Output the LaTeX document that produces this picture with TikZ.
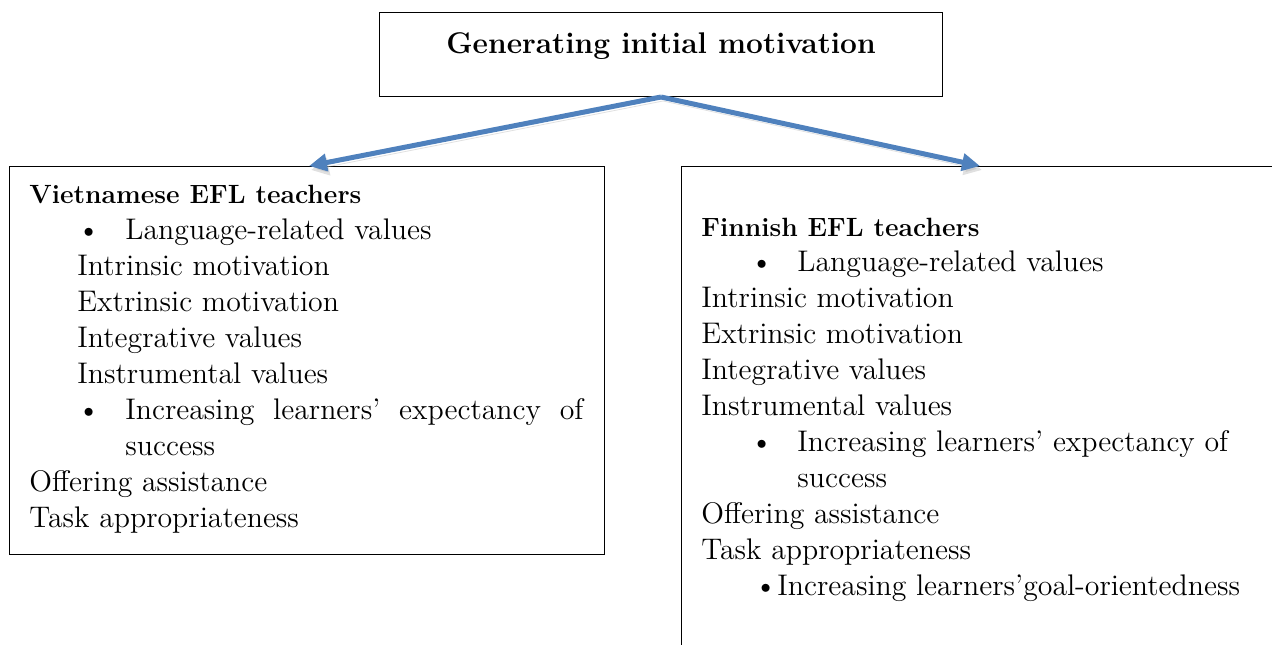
\documentclass[tikz,border=0pt]{standalone}
\usetikzlibrary{positioning,arrows.meta}
\definecolor{linkblue}{RGB}{79,129,189}
\newcommand{\bul}[1]{\makebox[#1][l]{\textbullet}}

\begin{document}
\begin{tikzpicture}[
  x = 0.5pt, y = 0.5pt,
  box/.style  = {draw, line width = 0.5pt, inner sep = 0pt, anchor = north west},
  line/.style = {anchor = base west, inner sep = 0pt, font = \fontsize{14.9}{18}\selectfont},
  head/.style = {line, font = \fontsize{13.2}{18}\selectfont\bfseries},
  link/.style = {draw = linkblue, line width = 2.5pt,
                 -{Triangle[length = 9pt, width = 8.5pt]},
                 preaction = {draw = black!30, opacity = 0.4,
                              transform canvas = {shift = {(1pt,-2pt)}}}},
  ]
  \useasboundingbox (0,0) rectangle (1272,-644);

  % boxes
  \node[box, minimum width = 281.5pt, minimum height = 42pt] (goal) at (379,-12) {};
  \node[box, minimum width = 297.5pt, minimum height = 194pt] (viet) at (9,-166) {};
  \node[box, minimum width = 320pt, minimum height = 250pt] (finn) at (681,-166) {};

  \node[line, anchor = base, font = \fontsize{14.95}{18}\selectfont\bfseries]
    (title) at (661,-53) {Generating initial motivation};

  % arrows
  \draw[link] (goal.south) -- ([xshift = 150pt]viet.north west);
  \draw[link] (goal.south) -- ([xshift = 149.5pt]finn.north west);

  % Vietnamese teachers
  \node[head] (vhead) at (29,-203) {Vietnamese EFL teachers};
  \foreach \xx/\txt [count=\i] in {
      77/{\bul{24pt}Language-related values},
      77/Intrinsic motivation,
      77/Extrinsic motivation,
      77/Integrative values,
      77/Instrumental values,
      77/{\bul{24pt}\makebox[229pt][s]{Increasing learners' expectancy of}},
      125/success,
      29/Offering assistance,
      29/Task appropriateness}
    \node[line] (v\i) at (\xx, {-203-36*\i}) {\txt};

  % Finnish teachers
  \node[head] (fhead) at (701,-236) {Finnish EFL teachers};
  \foreach \xx/\txt [count=\i] in {
      750/{\bul{23.5pt}Language-related values},
      701/Intrinsic motivation,
      701/Extrinsic motivation,
      701/Integrative values,
      701/Instrumental values,
      750/{\bul{23.5pt}Increasing learners' expectancy of},
      797/success,
      701/Offering assistance,
      701/Task appropriateness,
      754/{\bul{11.5pt}Increasing learners'goal-orientedness}}
    \node[line] (f\i) at (\xx, {-236-35.9*\i}) {\txt};
\end{tikzpicture}
\end{document}
